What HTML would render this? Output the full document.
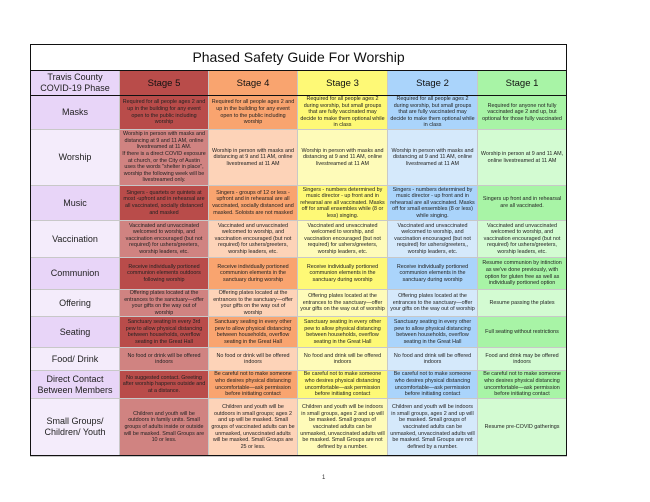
<!DOCTYPE html>
<html><head><meta charset="utf-8"><style>
body{margin:0;background:#fff;width:650px;height:502px;position:relative;overflow:hidden;font-family:"Liberation Sans",sans-serif;}
table{position:absolute;left:30px;top:44px;border-collapse:collapse;table-layout:fixed;width:536px;}
td{border:1px solid #c8c8c8;text-align:center;vertical-align:middle;font-size:5.4px;line-height:6.6px;color:#222;padding:0 2px;overflow:hidden;}
.t td{border:1.5px solid #111;font-size:14px;color:#111;height:25px;}
.h td{font-size:9.5px;line-height:11px;color:#111;height:24px;border-bottom:1.5px solid #111;}
td.l{font-size:9px;line-height:11px;color:#222;padding:0;}
.d .l{background:#e8d5f8}.d .a{background:#b94c4a}.d .b{background:#f9a46f}.d .c{background:#fef976}.d .e{background:#aad4fb}.d .f{background:#a8f4a6}
.w .l{background:#f4ecfb}.w .a{background:#d08381}.w .b{background:#fdd3b8}.w .c{background:#fefbb9}.w .e{background:#d5e9fb}.w .f{background:#d3fbd2}
.outer{position:absolute;left:30px;top:44px;width:535px;height:410px;border:1.5px solid #111;pointer-events:none;}
.pg{position:absolute;left:322px;top:475px;font-size:6px;color:#333;}
</style></head><body>
<table>
<col style="width:89px"><col style="width:89px"><col style="width:89px"><col style="width:90px"><col style="width:90px"><col style="width:89px">
<tr class="t"><td colspan="6">Phased Safety Guide For Worship</td></tr>
<tr class="h d"><td class="l">Travis County<br>COVID-19 Phase</td><td class="a">Stage 5</td><td class="b">Stage 4</td><td class="c">Stage 3</td><td class="e">Stage 2</td><td class="f">Stage 1</td></tr>
<tr class="d" style="height:34px"><td class="l">Masks</td><td class="a">Required for all people ages 2 and up in the building for any event open to the public including worship</td><td class="b">Required for all people ages 2 and up in the building for any event open to the public including worship</td><td class="c">Required for all people ages 2 during worship, but small groups that are fully vaccinated may decide to make them optional while in class</td><td class="e">Required for all people ages 2 during worship, but small groups that are fully vaccinated may decide to make them optional while in class</td><td class="f">Required for anyone not fully vaccinated age 2 and up, but optional for those fully vaccinated</td></tr>
<tr class="w" style="height:56px"><td class="l">Worship</td><td class="a">Worship in person with masks and distancing at 9 and 11 AM, online livestreamed at 11 AM.<br>If there is a direct COVID exposure at church, or the City of Austin uses the words "shelter in place", worship the following week will be livestreamed only.</td><td class="b">Worship in person with masks and distancing at 9 and 11 AM, online livestreamed at 11 AM</td><td class="c">Worship in person with masks and distancing at 9 and 11 AM, online livestreamed at 11 AM</td><td class="e">Worship in person with masks and distancing at 9 and 11 AM, online livestreamed at 11 AM</td><td class="f">Worship in person at 9 and 11 AM, online livestreamed at 11 AM</td></tr>
<tr class="d" style="height:35px"><td class="l">Music</td><td class="a">Singers - quartets or quintets at most -upfront and in rehearsal are all vaccinated, socially distanced and masked</td><td class="b">Singers - groups of 12 or less - upfront and in rehearsal are all vaccinated, socially distanced and masked. Soloists are not masked</td><td class="c">Singers - numbers determined by music director - up front and in rehearsal are all vaccinated. Masks off for small ensembles while (8 or less) singing.</td><td class="e">Singers - numbers determined by music director - up front and in rehearsal are all vaccinated. Masks off for small ensembles (8 or less) while singing.</td><td class="f">Singers up front and in rehearsal are all vaccinated.</td></tr>
<tr class="w" style="height:37px"><td class="l">Vaccination</td><td class="a">Vaccinated and unvaccinated welcomed to worship, and vaccination encouraged (but not required) for ushers/greeters, worship leaders, etc.</td><td class="b">Vaccinated and unvaccinated welcomed to worship, and vaccination encouraged (but not required) for ushers/greeters, worship leaders, etc.</td><td class="c">Vaccinated and unvaccinated welcomed to worship, and vaccination encouraged (but not required) for ushers/greeters, worship leaders, etc.</td><td class="e">Vaccinated and unvaccinated welcomed to worship, and vaccination encouraged (but not required) for ushers/greeters,, worship leaders, etc.</td><td class="f">Vaccinated and unvaccinated welcomed to worship, and vaccination encouraged (but not required) for ushers/greeters, worship leaders, etc.</td></tr>
<tr class="d" style="height:32px"><td class="l">Communion</td><td class="a">Receive individually portioned communion elements outdoors following worship</td><td class="b">Receive individually portioned communion elements in the sanctuary during worship</td><td class="c">Receive individually portioned communion elements in the sanctuary during worship</td><td class="e">Receive individually portioned communion elements in the sanctuary during worship</td><td class="f">Resume communion by intinction as we've done previously, with option for gluten free as well as individually portioned option</td></tr>
<tr class="w" style="height:27px"><td class="l">Offering</td><td class="a">Offering plates located at the entrances to the sanctuary—offer your gifts on the way out of worship</td><td class="b">Offering plates located at the entrances to the sanctuary—offer your gifts on the way out of worship</td><td class="c">Offering plates located at the entrances to the sanctuary—offer your gifts on the way out of worship</td><td class="e">Offering plates located at the entrances to the sanctuary—offer your gifts on the way out of worship</td><td class="f">Resume passing the plates</td></tr>
<tr class="d" style="height:31px"><td class="l">Seating</td><td class="a">Sanctuary seating in every 3rd pew to allow physical distancing between households, overflow seating in the Great Hall</td><td class="b">Sanctuary seating in every other pew to allow physical distancing between households, overflow seating in the Great Hall</td><td class="c">Sanctuary seating in every other pew to allow physical distancing between households, overflow seating in the Great Hall</td><td class="e">Sanctuary seating in every other pew to allow physical distancing between households, overflow seating in the Great Hall</td><td class="f">Full seating without restrictions</td></tr>
<tr class="w" style="height:23px"><td class="l">Food/ Drink</td><td class="a">No food or drink will be offered indoors</td><td class="b">No food or drink will be offered indoors</td><td class="c">No food and drink will be offered indoors</td><td class="e">No food and drink will be offered indoors</td><td class="f">Food and drink may be offered indoors</td></tr>
<tr class="d" style="height:26px"><td class="l">Direct Contact<br>Between Members</td><td class="a">No suggested contact. Greeting after worship happens outside and at a distance.</td><td class="b">Be careful not to make someone who desires physical distancing uncomfortable—ask permission before initiating contact</td><td class="c">Be careful not to make someone who desires physical distancing uncomfortable—ask permission before initiating contact</td><td class="e">Be careful not to make someone who desires physical distancing uncomfortable—ask permission before initiating contact</td><td class="f">Be careful not to make someone who desires physical distancing uncomfortable—ask permission before initiating contact</td></tr>
<tr class="w" style="height:58px"><td class="l">Small Groups/<br>Children/ Youth</td><td class="a">Children and youth will be outdoors in family units. Small groups of adults inside or outside will be masked. Small Groups are 10 or less.</td><td class="b">Children and youth will be outdoors in small groups; ages 2 and up will be masked. Small groups of vaccinated adults can be unmasked, unvaccinated adults will be masked. Small Groups are 25 or less.</td><td class="c">Children and youth will be indoors in small groups, ages 2 and up will be masked. Small groups of vaccinated adults can be unmasked, unvaccinated adults will be masked. Small Groups are not defined by a number.</td><td class="e">Children and youth will be indoors in small groups, ages 2 and up will be masked. Small groups of vaccinated adults can be unmasked, unvaccinated adults will be masked. Small Groups are not defined by a number.</td><td class="f">Resume pre-COVID gatherings</td></tr>
</table>
<div class="outer"></div>
<div class="pg">1</div>
</body></html>
